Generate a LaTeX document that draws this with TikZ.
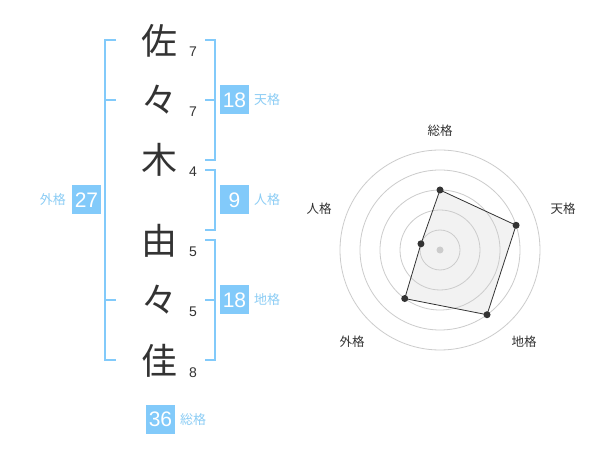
\documentclass[tikz,border=0pt]{standalone}
\usepackage{fontspec}
\usetikzlibrary{calc}
\setmainfont{Liberation Sans}
\newfontfamily\jp{Noto Sans CJK JP}
\definecolor{brk}{RGB}{130,202,250}
\definecolor{lbl}{RGB}{140,205,245}
\definecolor{ink}{RGB}{51,51,51}
\definecolor{ring}{RGB}{204,204,204}
\definecolor{poly}{RGB}{242,242,242}
\begin{document}
\begin{tikzpicture}[x=1pt,y=-1pt,
  kanji/.style={font=\jp\fontsize{36}{36}\selectfont,text=ink,inner sep=0pt},
  strokes/.style={font=\fontsize{14}{14}\selectfont,text=ink,inner sep=0pt},
  scorebox/.style={fill=brk,text=white,minimum size=29pt,inner sep=0pt,font=\fontsize{21}{21}\selectfont},
  kaku/.style={font=\jp\fontsize{13}{13}\selectfont,text=lbl,inner sep=0pt},
  bracket/.style={draw=brk,line width=2pt},
  axislbl/.style={font=\jp\fontsize{12.5}{12.5}\selectfont,text=ink,inner sep=0pt},
  ringline/.style={draw=ring,line width=0.8pt},
  dot/.style={circle,fill=ink,minimum size=7pt,inner sep=0pt}]
\useasboundingbox[fill=white] (0,0) rectangle (600,470);
% characters
\node[kanji] (c1) at (159,41) {佐};
\node[kanji] (c2) at (159,100) {々};
\node[kanji] (c3) at (159,160) {木};
\node[kanji] (c4) at (159,241) {由};
\node[kanji] (c5) at (159,300) {々};
\node[kanji] (c6) at (159,361) {佳};
% stroke counts
\node[strokes] (n1) at (193,52) {7};
\node[strokes] (n2) at (193,112) {7};
\node[strokes] (n3) at (193,172) {4};
\node[strokes] (n4) at (193,252) {5};
\node[strokes] (n5) at (193,312) {5};
\node[strokes] (n6) at (193,373) {8};
% brackets
\draw[bracket] (116,40) -- (105,40) -- (105,360) -- (116,360);
\draw[bracket] (105,100) -- (116,100);
\draw[bracket] (105,300) -- (116,300);
\draw[bracket] (205,40) -- (215,40) -- (215,160) -- (205,160);
\draw[bracket] (205,100) -- (215,100);
\draw[bracket] (205,170) -- (215,170) -- (215,230) -- (205,230);
\draw[bracket] (205,240) -- (215,240) -- (215,360) -- (205,360);
\draw[bracket] (205,300) -- (215,300);
% score boxes
\node[scorebox] (ten) at (234.5,100) {18};
\node[kaku,anchor=west] (tenl) at (254,100) {天格};
\node[scorebox] (jin) at (234.5,200) {9};
\node[kaku,anchor=west] (jinl) at (254,200) {人格};
\node[scorebox] (chi) at (234.5,300) {18};
\node[kaku,anchor=west] (chil) at (254,300) {地格};
\node[scorebox] (gai) at (86.5,200) {27};
\node[kaku,anchor=east] (gail) at (66,200) {外格};
\node[scorebox] (sou) at (160.5,419.5) {36};
\node[kaku,anchor=west] (soul) at (180,420) {総格};
% radar
\coordinate (rc) at (440,250);
\path (rc) ++(90:60pt) coordinate (q1);
\path (rc) ++(18:80pt) coordinate (q2);
\path (rc) ++(-54:80pt) coordinate (q3);
\path (rc) ++(234:60pt) coordinate (q4);
\path (rc) ++(162:20pt) coordinate (q5);
\fill[poly] (q1) -- (q2) -- (q3) -- (q4) -- (q5) -- cycle;
\foreach \r in {20,40,60,80,100} \draw[ringline] (rc) circle[radius=\r];
\node[circle,fill=ring,minimum size=7pt,inner sep=0pt] (rcd) at (rc) {};
\draw[ink,line width=0.8pt] (q1) -- (q2) -- (q3) -- (q4) -- (q5) -- cycle;
\foreach \i in {1,...,5} \node[dot] (p\i) at (q\i) {};
\node[axislbl] (a1) at (440,131) {総格};
\node[axislbl] (a2) at (563,209) {天格};
\node[axislbl] (a3) at (524,342) {地格};
\node[axislbl] (a4) at (352,342) {外格};
\node[axislbl] (a5) at (319,209) {人格};
\end{tikzpicture}
\end{document}
